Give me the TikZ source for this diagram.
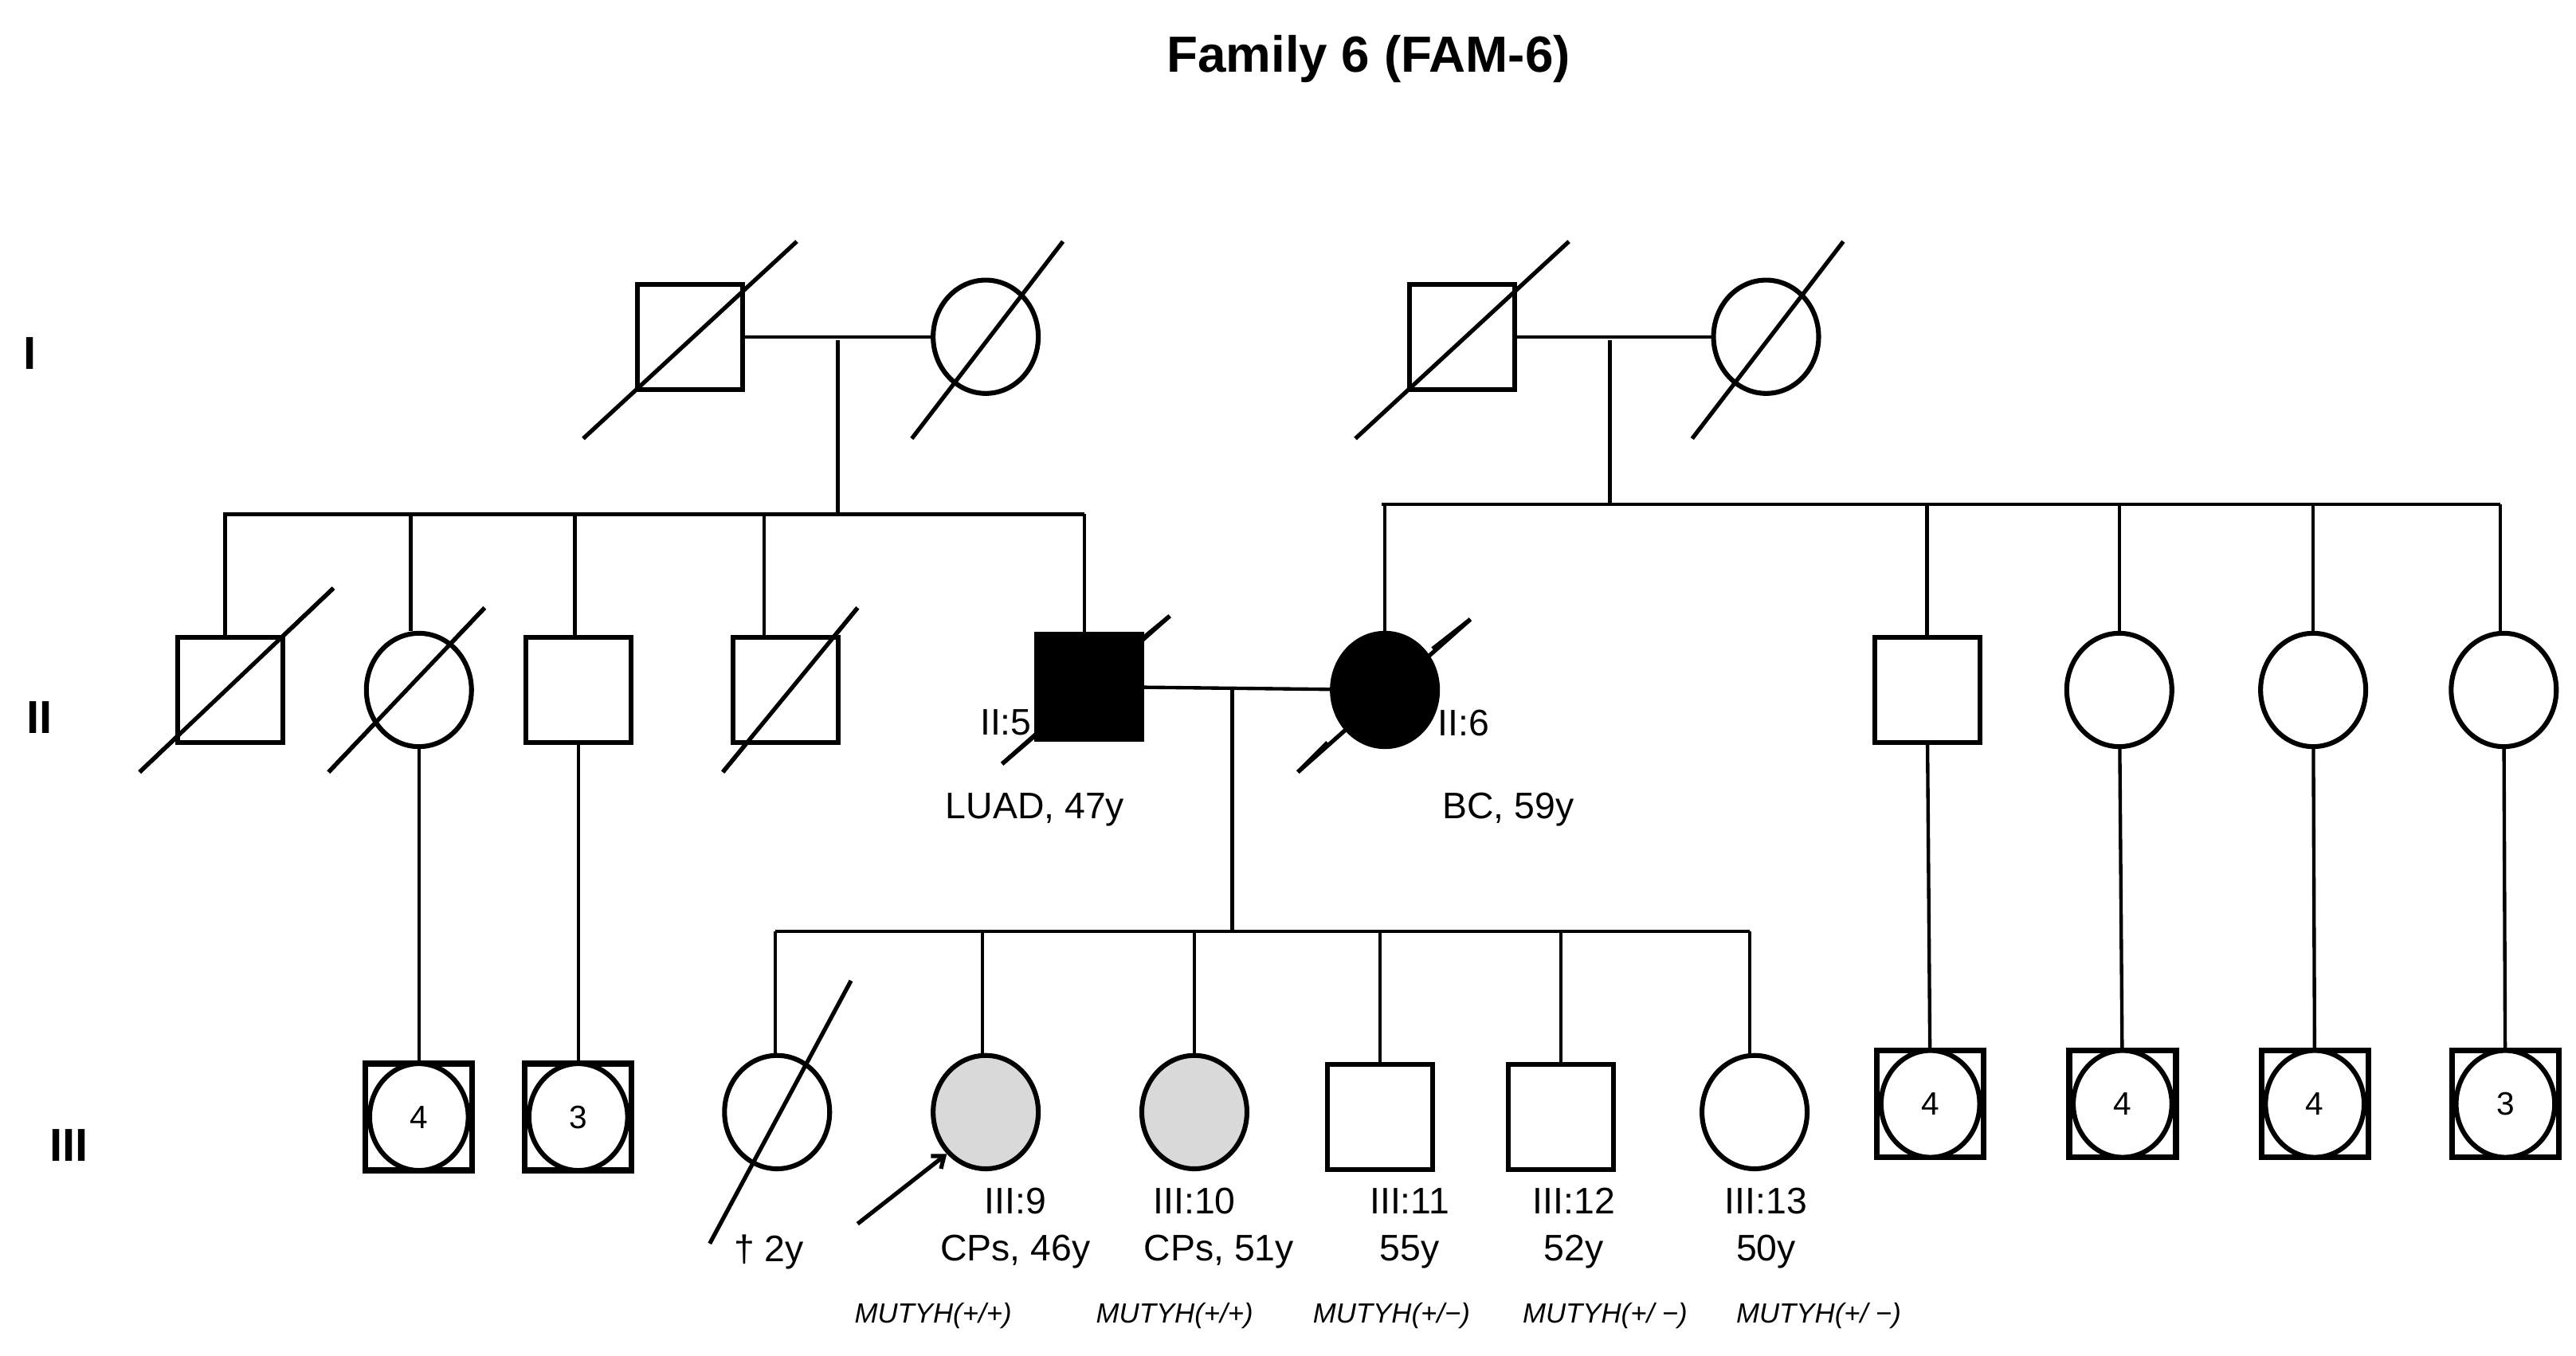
\documentclass[tikz,border=0pt]{standalone}
\usepackage{fontspec}
\setmainfont{Liberation Sans}
\usetikzlibrary{shapes.geometric,arrows.meta}
\begin{document}
\begin{tikzpicture}[x=0.05cm,y=-0.05cm,
  lw/.style={line width=4.2pt},
  ln/.style={line width=3pt},
  m/.style={draw,lw,minimum size=3.2cm,inner sep=0pt,fill=white},
  f/.style={draw,lw,ellipse,minimum width=3.2cm,minimum height=3.45cm,inner sep=0pt,fill=white},
  grp/.style={draw,line width=5pt,minimum size=3.25cm,inner sep=0pt,fill=white},
  sl/.style={line width=3.6pt},
  t/.style={font=\fontsize{32}{36}\selectfont,inner sep=0pt},
  it/.style={font=\fontsize{24}{28}\selectfont\itshape,inner sep=0pt},
  gen/.style={font=\fontsize{40}{44}\selectfont\bfseries,inner sep=0pt}]
\useasboundingbox (0,0) rectangle (1568,825.3);
\node[font=\fontsize{44}{50}\selectfont\bfseries,inner sep=0pt] (title) at (833,36) {Family 6 (FAM-6)};
\node[gen] (g1) at (18,215) {I};
\node[gen] (g2) at (24,437) {II};
\node[gen] (g3) at (42,697) {III};
% generation I
\node[m] (i1) at (420,205) {};
\node[f] (i2) at (600,205) {};
\node[m] (i3) at (890,205) {};
\node[f] (i4) at (1075,205) {};
\draw[sl] (355,267) -- (485,147);
\draw[sl] (555,267) -- (647,147);
\draw[sl] (825,267) -- (955,147);
\draw[sl] (1030,267) -- (1122,147);
\coordinate (m1) at (510,207); \coordinate (m2) at (980,207);
\draw[ln] (i1) -- (i2);
\draw[ln] (i3) -- (i4);
\draw[ln] (m1) -- (510,312);
\draw[ln] (m2) -- (980,307);
\draw[ln] (136,313) -- (660,313);
\draw[ln] (841,307) -- (1522,307);
% generation II
\draw[sl] (85,470) -- (203,358);
\draw[sl] (200,470) -- (295,370);
\draw[sl] (440,470) -- (522,370);
\draw[sl] (610,465) -- (712,375);
\draw[sl] (790,470) -- (895,377);
\node[m] (ii1) at (140,420) {};
\node[f] (ii2) at (255,420) {};
\node[m] (ii3) at (352,420) {};
\node[m] (ii4) at (478,420) {};
\node[m,fill=black] (ii5) at (663,418) {};
\node[f,fill=black] (ii6) at (843,420) {};
\node[m] (ii7) at (1173,420) {};
\node[f] (ii8) at (1290,420) {};
\node[f] (ii9) at (1408,420) {};
\node[f] (ii10) at (1524,420) {};
\draw[sl] (85,470) -- (203,358);
\draw[sl] (200,470) -- (295,370);
\draw[sl] (440,470) -- (522,370);
\draw[sl] (610,465) -- (631,447);
\draw[sl] (695,389) -- (712,375);
\draw[sl] (790,470) -- (808,452);
\draw[sl] (872,395) -- (895,377);
\foreach \n/\x in {ii1/137,ii2/250,ii3/350,ii4/465,ii5/660}{\draw[ln] (\x,313) -- (\n.north -| \x,0);}
\foreach \n/\x in {ii6/843,ii7/1173,ii8/1290,ii9/1408,ii10/1522}{\draw[ln] (\x,307) -- (\n.north -| \x,0);}
\draw[ln] (ii5) -- (ii6);
\coordinate (m3) at (750,418);
\draw[ln] (m3) -- (750,567);
\draw[ln] (472,567) -- (1065,567);
\node[t,anchor=east] (l5) at (628,440) {II:5};
\node[t] (l5b) at (630,493) {LUAD, 47y};
\node[t,anchor=west] (l6) at (875,440) {II:6};
\node[t] (l6b) at (918,493) {BC, 59y};
% generation III
\newcommand{\grpnode}[4]{%
  \node[grp] (#1) at (#2,#3) {};
  \node[draw,line width=4.2pt,ellipse,minimum width=3.0cm,minimum height=3.25cm,inner sep=0pt,fill=white,font=\fontsize{28}{30}\selectfont] (#1c) at (#2,#3) {#4};}
\grpnode{a1}{255}{680}{4}
\grpnode{a2}{352}{680}{3}
\grpnode{b1}{1175}{672}{4}
\grpnode{b2}{1292}{672}{4}
\grpnode{b3}{1409}{672}{4}
\grpnode{b4}{1525}{672}{3}
\draw[ln] (ii2) -- (a1);
\draw[ln] (ii3) -- (a2);
\draw[ln] (ii7) -- (b1);
\draw[ln] (ii8) -- (b2);
\draw[ln] (ii9) -- (b3);
\draw[ln] (ii10) -- (b4);
\node[f] (iii8) at (473,677) {};
\draw[sl] (432,757) -- (518,597);
\node[f,fill=black!15] (iii9) at (600,677) {};
\node[f,fill=black!15] (iii10) at (727,677) {};
\node[m] (iii11) at (840,680) {};
\node[m] (iii12) at (950,680) {};
\node[f] (iii13) at (1068,677) {};
\foreach \n/\x in {iii8/472,iii9/598,iii10/727,iii11/840,iii12/950,iii13/1065}{\draw[ln] (\x,567) -- (\n.north -| \x,0);}
\coordinate (arS) at (522,745);
\draw[line width=3.6pt,-{Straight Barb[length=9pt,width=14pt]}] (arS) -- (iii9.south west);
\node[t] (d8) at (468,762) {† 2y};
\node[t] (n9) at (618,731) {III:9};
\node[t] (n9b) at (618,762) {CPs, 46y};
\node[t] (n10) at (727,731) {III:10};
\node[t] (n10b) at (742,762) {CPs, 51y};
\node[t] (n11) at (858,731) {III:11};
\node[t] (n11b) at (858,762) {55y};
\node[t] (n12) at (958,731) {III:12};
\node[t] (n12b) at (958,762) {52y};
\node[t] (n13) at (1075,731) {III:13};
\node[t] (n13b) at (1075,762) {50y};
\node[it] (g9) at (568,801) {MUTYH(+/+)};
\node[it] (g10) at (715,801) {MUTYH(+/+)};
\node[it] (g11) at (847,801) {MUTYH(+/−)};
\node[it] (g12) at (977,801) {MUTYH(+/ −)};
\node[it] (g13) at (1107,801) {MUTYH(+/ −)};
\end{tikzpicture}
\end{document}
